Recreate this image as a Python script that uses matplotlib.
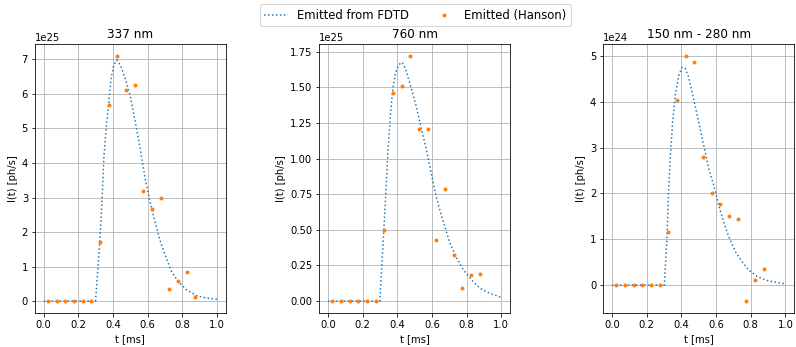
import numpy as np
import matplotlib
matplotlib.use("Agg")
import matplotlib.pyplot as plt

# measured points (Hanson), same time grid for all three bands
t_pts = [0.025, 0.075, 0.125, 0.175, 0.225, 0.275, 0.325, 0.375, 0.425,
         0.475, 0.525, 0.575, 0.625, 0.675, 0.725, 0.775, 0.825, 0.875]
pts_337 = [0, 0, 0, 0, 0, 0, 1.72e25, 5.67e25, 7.1e25, 6.12e25, 6.25e25,
           3.2e25, 2.68e25, 3.0e25, 0.35e25, 0.58e25, 0.85e25, 0.12e25]
pts_760 = [0, 0, 0, 0, 0, 0, 0.50e25, 1.46e25, 1.51e25, 1.72e25, 1.21e25,
           1.21e25, 0.43e25, 0.79e25, 0.32e25, 0.09e25, 0.18e25, 0.19e25]
pts_uv = [0, 0, 0, 0, 0, 0, 1.15e24, 4.03e24, 5.0e24, 4.87e24, 2.8e24,
          2.0e24, 1.76e24, 1.5e24, 1.45e24, -0.35e24, 0.12e24, 0.36e24]

# FDTD curves
t_337 = [0.0, 0.1, 0.2, 0.299, 0.324, 0.337, 0.347, 0.36, 0.375, 0.389, 0.404,
         0.423, 0.442, 0.47, 0.50, 0.528, 0.556, 0.585, 0.613, 0.642, 0.67,
         0.70, 0.737, 0.775, 0.823, 0.88, 0.937, 0.985, 1.0]
c_337 = [0, 0, 0, 0, 1.73, 2.98, 4.14, 5.0, 5.73, 6.45, 6.84, 6.98, 6.84,
         6.45, 5.92, 5.2, 4.43, 3.56, 2.88, 2.30, 1.77, 1.34, 0.86, 0.57,
         0.33, 0.16, 0.09, 0.06, 0.055]
t_760 = [0.0, 0.1, 0.2, 0.30, 0.323, 0.337, 0.346, 0.362, 0.375, 0.39, 0.41,
         0.429, 0.448, 0.477, 0.505, 0.534, 0.563, 0.591, 0.62, 0.649, 0.678,
         0.706, 0.744, 0.783, 0.83, 0.878, 0.936, 0.99, 1.0]
c_760 = [0, 0, 0, 0, 0.50, 0.81, 1.04, 1.32, 1.49, 1.60, 1.66, 1.675, 1.63,
         1.51, 1.39, 1.24, 1.09, 0.93, 0.76, 0.625, 0.51, 0.40, 0.30, 0.217,
         0.147, 0.089, 0.054, 0.03, 0.028]
t_uv = [0.0, 0.1, 0.2, 0.302, 0.317, 0.327, 0.337, 0.35, 0.365, 0.385, 0.404,
        0.423, 0.442, 0.471, 0.50, 0.529, 0.558, 0.587, 0.615, 0.644, 0.673,
        0.712, 0.75, 0.788, 0.837, 0.894, 0.98, 1.0]
c_uv = [0, 0, 0, 0, 1.02, 2.1, 2.83, 3.56, 4.14, 4.57, 4.75, 4.73, 4.54,
        4.06, 3.56, 3.05, 2.54, 2.18, 1.75, 1.38, 1.06, 0.73, 0.51, 0.33,
        0.19, 0.10, 0.036, 0.03]

panels = [
    ("337 nm", t_337, np.array(c_337) * 1e25, pts_337),
    ("760 nm", t_760, np.array(c_760) * 1e25, pts_760),
    ("150 nm - 280 nm", t_uv, np.array(c_uv) * 1e24, pts_uv),
]

fig, axes = plt.subplots(1, 3, figsize=(796 / 72, 347 / 72), dpi=72)
fig.subplots_adjust(left=0.044, right=0.9975, bottom=0.097, top=0.874, wspace=0.49)

for ax, (title, tc, curve, pts) in zip(axes, panels):
    ax.plot(tc, curve, ':', color='C0', label='Emitted from FDTD')
    ax.plot(t_pts, pts, '.', color='C1', label='Emitted (Hanson)')
    ax.set_title(title)
    ax.set_xlabel('t [ms]')
    ax.set_ylabel('I(t) [ph/s]')
    ax.grid(True)

handles, labels = axes[0].get_legend_handles_labels()
fig.legend(handles, labels, loc='upper center', ncol=2, fontsize=11.6,
           bbox_to_anchor=(0.522, 1.005))

plt.savefig('out.png', dpi=72)
